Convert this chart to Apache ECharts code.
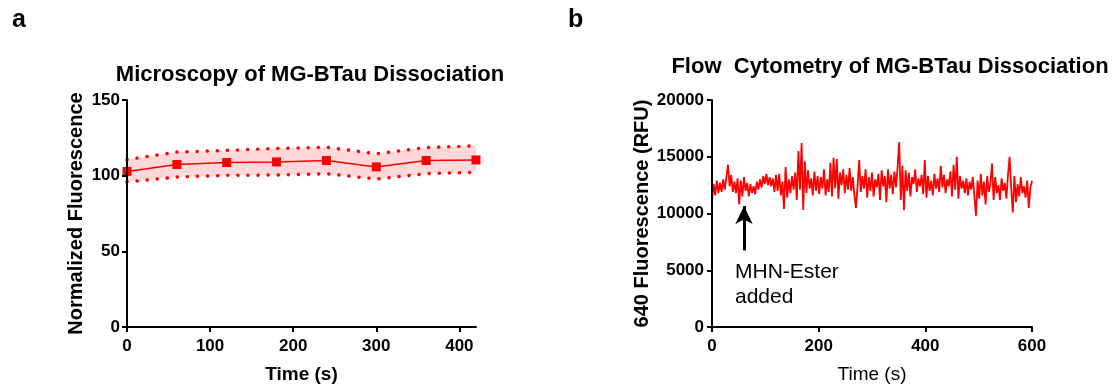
<!DOCTYPE html>
<html><head><meta charset="utf-8">
<script src="https://cdn.jsdelivr.net/npm/echarts@6/dist/echarts.min.js"></script>
<style>html,body{margin:0;padding:0;background:#fff}#c{width:1113px;height:389px}</style>
</head><body><div id="c"></div>
<script>
// ---- Panel a: microscopy ----
const microTimes = [0, 60, 120, 180, 240, 300, 360, 420];
const microMean  = [102.8, 107.4, 108.7, 109.1, 110.0, 105.8, 110.0, 110.4];
const microUpper = [110.6, 115.6, 116.7, 118.0, 118.8, 114.5, 118.6, 119.7];
const microLower = [95.9, 99.1, 100.2, 100.4, 101.3, 97.8, 101.3, 102.2];
const microXTicks = [0, 100, 200, 300, 400];

// ---- Panel b: flow cytometry (sampled every 3 s, 0..600 s) ----
const flowStep = 3;
const flowValues = [
 11100,12600,11600,12900,11800,12700,11900,13000,12100,13200,14300,12400,13400,11900,12800,11800,13100,10800,12900,11500,13200,12000,12700,11500,12600,11800,12400,11700,12800,12100,13000,12300,13300,12600,
 13500,12500,13200,12400,13100,11900,13400,12000,13500,11600,12800,10400,14100,11400,13000,11800,13300,12100,13600,11200,15500,12100,16200,10300,14600,11800,13800,12200,13100,11600,13700,12000,13300,
 11700,13200,12200,13900,11600,13000,11900,14500,11500,14900,12200,14800,11300,13600,12500,13900,11800,13400,12100,14000,12000,13200,11600,10500,12500,14700,11900,13300,12200,13900,11400,13200,12000,
 13600,11500,13000,12300,13500,11200,13800,12400,13300,11000,13900,12200,13400,11700,13700,12300,14100,16300,11200,14200,10300,13800,12000,13600,11500,13200,12600,13900,11900,13100,12400,13400,11700,14700,
 11400,13300,12000,12900,11600,13500,12200,13100,11900,14200,12300,13400,11800,13000,12400,13700,11500,14300,12100,15000,11300,13300,12200,12900,11800,13100,11600,12800,12100,13200,11500,9800,12900,11300,
 13500,11600,12800,10800,13300,11900,12600,14400,11200,13200,11800,12500,11200,13100,12000,12700,11300,13400,15000,12200,10100,13300,11000,12600,11500,13200,11800,12400,11400,12900,10500,12300,12900
];
const arrowTime = 60, arrowFrom = 6750, arrowTo = 10650;
const annotationText = 'MHN-Ester\nadded';

const FONT = '"Liberation Sans", Arial, Helvetica, sans-serif';
const chart = echarts.init(document.getElementById('c'), null, {renderer: 'canvas'});

const flowData = flowValues.map((v, i) => [i * flowStep, v]);
const microMeanData = microTimes.map((t, i) => [t, microMean[i]]);
const microLowerData = microTimes.map((t, i) => [t, microLower[i]]);
const microUpperData = microTimes.map((t, i) => [t, microUpper[i]]);

const axisLineStyle = {color: '#000', width: 2};
const tickLabel = {color: '#000', fontFamily: FONT, fontWeight: 'bold', fontSize: 17, formatter: v => String(v)};
const dotted = {color: '#ff0000', width: 3.5, type: [0.1, 10], cap: 'round'};

chart.setOption({
  animation: false,
  backgroundColor: '#fff',
  title: [
    {text: 'Microscopy of MG-BTau Dissociation', left: 305, top: 59, textAlign: 'center',
     textStyle: {fontFamily: FONT, fontWeight: 'bold', fontSize: 22, color: '#000'}},
    {text: 'Flow  Cytometry of MG-BTau Dissociation', left: 885, top: 51, textAlign: 'center',
     textStyle: {fontFamily: FONT, fontWeight: 'bold', fontSize: 22, color: '#000'}}
  ],
  grid: [
    {left: 127, top: 100, width: 349, height: 231},
    {left: 712, top: 100, width: 320, height: 231}
  ],
  xAxis: [
    {type: 'value', gridIndex: 0, min: 0, max: 420, interval: 100, z: 10,
     name: 'Time (s)', nameLocation: 'middle', nameGap: 38,
     nameTextStyle: {fontFamily: FONT, fontWeight: 'bold', fontSize: 19, color: '#000'},
     axisLine: {lineStyle: axisLineStyle}, splitLine: {show: false},
     axisTick: {length: 5, lineStyle: axisLineStyle, customValues: microXTicks},
     axisLabel: Object.assign({margin: 11, customValues: microXTicks}, tickLabel)},
    {type: 'value', gridIndex: 1, min: 0, max: 600, interval: 200, z: 10,
     name: 'Time (s)', nameLocation: 'middle', nameGap: 38,
     nameTextStyle: {fontFamily: FONT, fontWeight: 'normal', fontSize: 19, color: '#000'},
     axisLine: {lineStyle: axisLineStyle}, splitLine: {show: false},
     axisTick: {length: 5, lineStyle: axisLineStyle},
     axisLabel: Object.assign({margin: 11}, tickLabel)}
  ],
  yAxis: [
    {type: 'value', gridIndex: 0, min: 0, max: 150, interval: 50, z: 10,
     name: 'Normalized Fluorescence', nameLocation: 'middle', nameGap: 41,
     nameTextStyle: {fontFamily: FONT, fontWeight: 'bold', fontSize: 20, color: '#000'},
     axisLine: {show: true, lineStyle: axisLineStyle}, splitLine: {show: false},
     axisTick: {show: true, length: 5, lineStyle: axisLineStyle},
     axisLabel: Object.assign({margin: 7}, tickLabel)},
    {type: 'value', gridIndex: 1, min: 0, max: 20000, interval: 5000, z: 10,
     name: '640 Fluorescence (RFU)', nameLocation: 'middle', nameGap: 57,
     nameTextStyle: {fontFamily: FONT, fontWeight: 'bold', fontSize: 20, color: '#000'},
     axisLine: {show: true, lineStyle: axisLineStyle}, splitLine: {show: false},
     axisTick: {show: true, length: 5, lineStyle: axisLineStyle},
     axisLabel: Object.assign({margin: 8}, tickLabel)}
  ],
  series: [
    {type: 'line', xAxisIndex: 0, yAxisIndex: 0, data: microUpperData,
     symbol: 'none', lineStyle: dotted, areaStyle: {color: '#ffd9d9', opacity: 1}, z: 1, silent: true},
    {type: 'line', xAxisIndex: 0, yAxisIndex: 0, data: microLowerData,
     symbol: 'none', lineStyle: dotted, areaStyle: {color: '#ffffff', opacity: 1}, z: 1, silent: true},
    {type: 'line', xAxisIndex: 0, yAxisIndex: 0, data: microMeanData,
     symbol: 'rect', symbolSize: 9, itemStyle: {color: '#ff0000'},
     lineStyle: {color: '#ff0000', width: 1.5}, z: 3},
    {type: 'line', xAxisIndex: 1, yAxisIndex: 1, data: flowData,
     symbol: 'none', lineStyle: {color: '#ff0000', width: 1.8}, z: 3,
     markLine: {silent: true, symbol: ['none', 'arrow'], symbolSize: [13, 18],
       lineStyle: {color: '#000', width: 3, type: 'solid'}, label: {show: false},
       data: [[{coord: [arrowTime, arrowFrom]}, {coord: [arrowTime, arrowTo]}]]}}
  ],
  graphic: [
    {type: 'text', left: 12, top: 8, style: {text: 'a', fontFamily: FONT, fontWeight: 'bold', fontSize: 25, fill: '#000'}},
    {type: 'text', left: 568, top: 8, style: {text: 'b', fontFamily: FONT, fontWeight: 'bold', fontSize: 25, fill: '#000'}},
    {type: 'text', left: 735, top: 260, style: {text: annotationText, fontFamily: FONT, fontSize: 21, lineHeight: 25, fill: '#000'}}
  ]
});
</script>
</body></html>
